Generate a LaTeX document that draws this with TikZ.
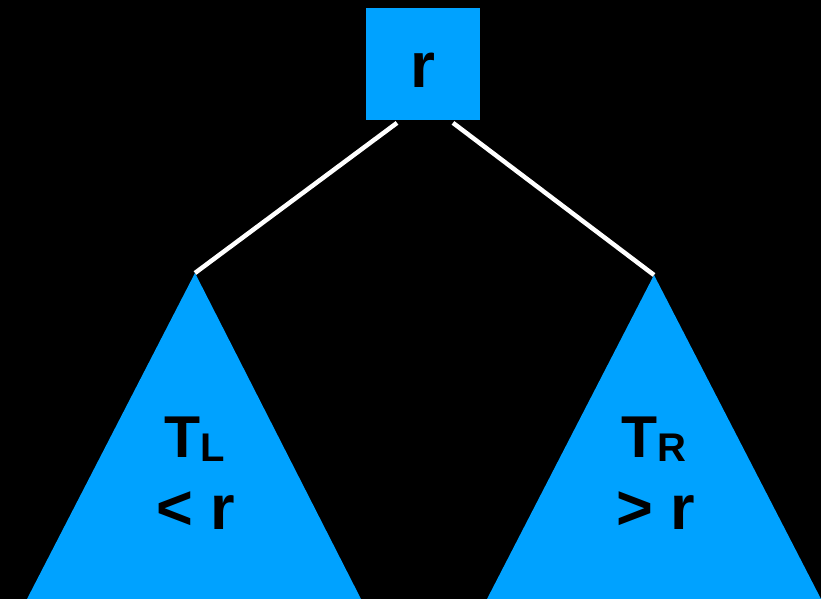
\documentclass[tikz,border=0pt]{standalone}
\usepackage{fontspec}
\setmainfont{Liberation Sans}
\usetikzlibrary{positioning}
\definecolor{treeblue}{HTML}{00A2FF}

\begin{document}
\begin{tikzpicture}[
  x=1pt, y=-1pt,
  rootbox/.style={
    fill=treeblue,
    inner sep=0pt,
    minimum width=114pt,
    text height=79pt,
    text depth=32.5pt,
    font=\fontsize{64}{72}\selectfont\bfseries
  },
  subtree/.style={fill=treeblue},
  edge/.style={draw=white, line width=4.5pt},
  namelabel/.style={anchor=base, inner sep=0pt, font=\fontsize{59}{72}\selectfont\bfseries},
  rellabel/.style={anchor=base, inner sep=0pt, font=\fontsize{63}{72}\selectfont\bfseries}
]

\useasboundingbox[fill=black] (0,0) rectangle (821,599);

\node[rootbox] (root) at (423,8) [anchor=north] {r};

\coordinate (ltop) at (195,273);
\coordinate (rtop) at (654,275);

\fill[subtree] (ltop) -- (27,599) -- (361,599) -- cycle;
\fill[subtree] (rtop) -- (487,599) -- (821,599) -- cycle;

\draw[edge] ([xshift=-26pt,yshift=-3pt]root.south) -- (ltop);
\draw[edge] ([xshift=30pt,yshift=-3pt]root.south) -- (rtop);

\node[namelabel] (lname) at (195,457) {T\raisebox{-4pt}{\fontsize{40}{40}\selectfont L}};
\node[rellabel] (lrel) at (196,529) {< r};
\node[namelabel] (rname) at (654,457) {T\raisebox{-4pt}{\fontsize{40}{40}\selectfont R}};
\node[rellabel] (rrel) at (656,529) {> r};

\end{tikzpicture}
\end{document}
